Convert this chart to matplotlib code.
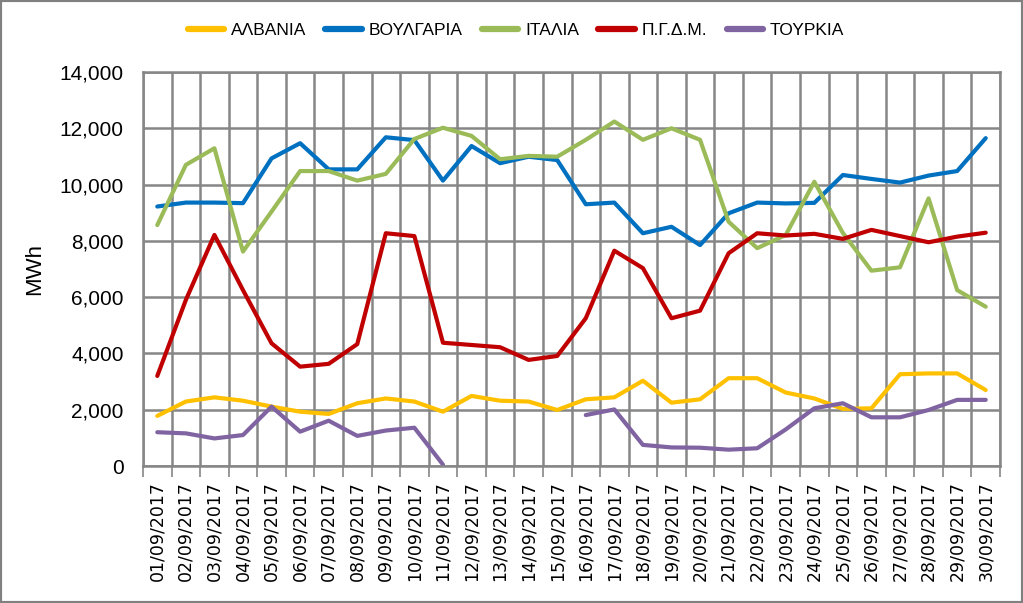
import numpy as np
import matplotlib.pyplot as plt
from matplotlib.patches import Rectangle

# daily energy per border, September 2017
days = [f"{d:02d}/09/2017" for d in range(1, 31)]

albania = [1780, 2290, 2440, 2320, 2110, 1930, 1850, 2230, 2400, 2290,
           1930, 2490, 2320, 2290, 1990, 2370, 2440, 3030, 2250, 2370,
           3120, 3120, 2610, 2400, 2030, 2050, 3260, 3290, 3290, 2700]
bulgaria = [9220, 9360, 9360, 9340, 10930, 11470, 10540, 10540, 11680, 11580,
            10140, 11370, 10760, 10990, 10870, 9300, 9360, 8270, 8500, 7850,
            8980, 9360, 9330, 9350, 10340, 10200, 10070, 10320, 10480, 11650]
italia = [8560, 10700, 11290, 7620, 9040, 10480, 10480, 10140, 10380, 11620,
          12020, 11730, 10900, 11020, 10990, 11590, 12240, 11590, 12000, 11590,
          8680, 7740, 8210, 10100, 8280, 6940, 7060, 9510, 6250, 5660]
pgdm = [3200, 5900, 8210, 6250, 4360, 3530, 3630, 4330, 8270, 8170,
        4380, 4300, 4220, 3770, 3910, 5250, 7650, 7030, 5250, 5520,
        7560, 8270, 8190, 8250, 8070, 8390, 8170, 7950, 8150, 8290]
tourkia = [1200, 1160, 980, 1100, 2110, 1220, 1610, 1070, 1260, 1360,
           50, np.nan, np.nan, np.nan, np.nan, 1810, 2010, 750, 660, 650,
           580, 630, 1300, 2050, 2230, 1730, 1730, 1990, 2350, 2350]

series = [
    ("ΑΛΒΑΝΙΑ", albania, "#FFC000"),
    ("ΒΟΥΛΓΑΡΙΑ", bulgaria, "#0070C0"),
    ("ΙΤΑΛΙΑ", italia, "#9BBB59"),
    ("Π.Γ.Δ.Μ.", pgdm, "#C00000"),
    ("ΤΟΥΡΚΙΑ", tourkia, "#8064A2"),
]

sans = ["Liberation Sans", "DejaVu Sans"]
grid_c = "#868686"

fig = plt.figure(figsize=(10.23, 6.03), dpi=100)
ax = fig.add_axes([143 / 1023, 1 - 466 / 603, 857 / 1023, 394 / 603])

x = np.arange(1, 31)
for name, vals, col in series:
    ax.plot(x, vals, color=col, lw=3.0, label=name, solid_capstyle="round",
            solid_joinstyle="round")

ax.set_xlim(0.5, 30.5)
ax.set_ylim(0, 14000)
ax.set_yticks(np.arange(0, 14001, 2000))
ax.set_yticklabels([f"{v:,}" for v in range(0, 14001, 2000)],
                   family=sans, fontsize=15)
ax.set_xticks(x)
ax.set_xticklabels(days, rotation=90, family="DejaVu Sans", fontsize=12.5)
ax.set_xticks(np.arange(0.5, 31, 1), minor=True)
ax.tick_params(axis="x", which="major", length=0, pad=11)
ax.tick_params(axis="x", which="minor", length=8, width=1.2, color=grid_c)
ax.tick_params(axis="y", length=0, pad=14)

ax.grid(True, axis="y", color=grid_c, lw=1.8)
ax.grid(True, axis="x", which="minor", color=grid_c, lw=1.8)
ax.set_axisbelow(True)
for s in ax.spines.values():
    s.set_color(grid_c)
    s.set_linewidth(1.8)

ax.set_ylabel("MWh", family=sans, fontsize=16, labelpad=10)

leg = fig.legend(loc="center", bbox_to_anchor=(516 / 1023, 1 - 30 / 603), ncol=5,
                 frameon=False, prop={"family": sans, "size": 12.5},
                 handlelength=2.1, handletextpad=0.4, columnspacing=1.1)
for h in leg.get_lines():
    h.set_linewidth(4.5)

fig.patches.append(Rectangle((0, 0), 1, 1, transform=fig.transFigure, fill=False,
                             edgecolor="#808080", lw=3))

fig.savefig("out.png", dpi=100)
